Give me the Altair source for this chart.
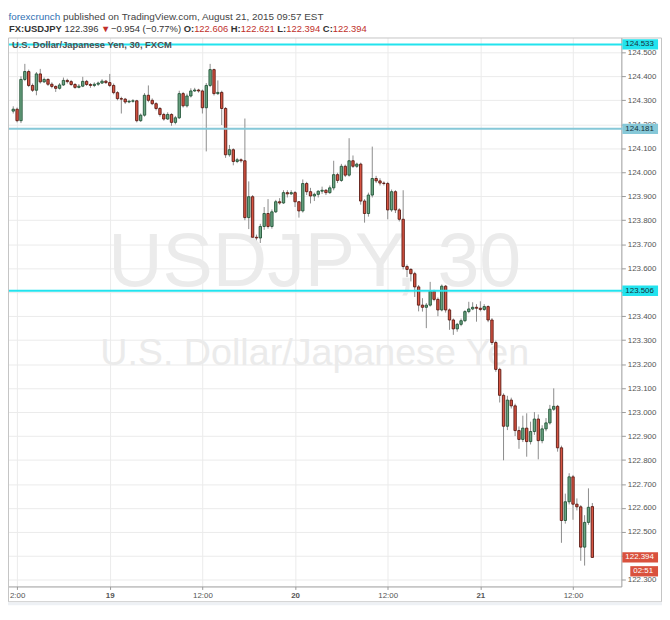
import altair as alt
import pandas as pd

# ---------------- data ----------------
opens = [124.255, 124.263, 124.215, 124.387, 124.420, 124.362, 124.342, 124.410, 124.377, 124.387,
         124.367, 124.358, 124.350, 124.364, 124.383, 124.378, 124.366, 124.354, 124.359, 124.379,
         124.366, 124.362, 124.367, 124.372, 124.380, 124.374, 124.362, 124.332, 124.307, 124.305,
         124.293, 124.296, 124.298, 124.215, 124.238, 124.321, 124.300, 124.286, 124.266, 124.241,
         124.222, 124.241, 124.208, 124.227, 124.328, 124.277, 124.318, 124.339, 124.343, 124.339,
         124.269, 124.362, 124.428, 124.328, 124.333, 124.266, 124.073, 124.094, 124.045, 124.052,
         124.048, 123.811, 123.898, 123.729, 123.726, 123.774, 123.828, 123.774, 123.835, 123.877,
         123.872, 123.915, 123.910, 123.915, 123.877, 123.839, 123.953, 123.919, 123.901, 123.908,
         123.921, 123.925, 123.915, 123.935, 123.990, 123.966, 124.025, 123.988, 124.048, 124.025,
         124.034, 123.880, 123.828, 123.905, 123.974, 123.964, 123.955, 123.953, 123.843, 123.919,
         123.843, 123.804, 123.607, 123.595, 123.577, 123.522, 123.446, 123.437, 123.446, 123.504,
         123.470, 123.426, 123.525, 123.426, 123.384, 123.347, 123.366, 123.381, 123.419, 123.430,
         123.437, 123.433, 123.428, 123.440, 123.384, 123.290, 123.178, 123.070, 122.941, 123.050,
         123.026, 122.923, 122.886, 122.933, 122.877, 122.919, 122.971, 122.881, 122.930, 122.955,
         123.012, 123.024, 122.851, 122.548, 122.626, 122.730, 122.616, 122.605, 122.437, 122.540,
         122.606]
highs = [124.275, 124.270, 124.400, 124.452, 124.428, 124.370, 124.418, 124.431, 124.395, 124.392,
         124.375, 124.362, 124.372, 124.395, 124.390, 124.385, 124.372, 124.368, 124.398, 124.385,
         124.372, 124.375, 124.378, 124.388, 124.385, 124.410, 124.370, 124.338, 124.315, 124.310,
         124.302, 124.305, 124.302, 124.245, 124.330, 124.362, 124.308, 124.292, 124.272, 124.248,
         124.250, 124.246, 124.235, 124.340, 124.335, 124.328, 124.350, 124.352, 124.348, 124.345,
         124.372, 124.452, 124.432, 124.383, 124.340, 124.272, 124.114, 124.100, 124.060, 124.058,
         124.224, 123.962, 123.905, 123.740, 123.785, 123.855, 123.888, 123.845, 123.885, 123.892,
         123.925, 123.925, 123.925, 123.922, 123.880, 123.970, 123.960, 123.935, 123.915, 123.925,
         123.940, 123.930, 123.945, 124.048, 123.998, 124.035, 124.032, 124.142, 124.070, 124.040,
         124.040, 123.888, 123.915, 124.107, 123.985, 123.975, 123.962, 123.960, 123.928, 123.925,
         123.850, 123.925, 123.615, 123.600, 123.585, 123.530, 123.475, 123.455, 123.543, 123.510,
         123.478, 123.532, 123.530, 123.432, 123.390, 123.372, 123.390, 123.425, 123.460, 123.458,
         123.450, 123.462, 123.450, 123.445, 123.392, 123.298, 123.185, 123.078, 123.068, 123.060,
         123.035, 122.940, 122.985, 122.995, 122.960, 123.000, 122.990, 122.945, 122.975, 123.030,
         123.099, 123.030, 122.860, 122.660, 122.745, 122.738, 122.640, 122.612, 122.570, 122.682,
         122.621]
lows = [124.245, 124.208, 124.205, 124.380, 124.355, 124.335, 124.321, 124.370, 124.372, 124.360,
        124.350, 124.335, 124.345, 124.360, 124.370, 124.360, 124.348, 124.350, 124.355, 124.360,
        124.352, 124.355, 124.360, 124.368, 124.368, 124.355, 124.325, 124.300, 124.245, 124.285,
        124.288, 124.290, 124.208, 124.210, 124.232, 124.292, 124.280, 124.258, 124.232, 124.215,
        124.218, 124.194, 124.200, 124.222, 124.270, 124.270, 124.312, 124.335, 124.332, 124.245,
        124.087, 124.355, 124.320, 124.322, 124.197, 124.060, 124.065, 124.029, 124.038, 124.040,
        123.800, 123.763, 123.720, 123.680, 123.705, 123.760, 123.765, 123.765, 123.830, 123.865,
        123.868, 123.895, 123.905, 123.855, 123.811, 123.832, 123.905, 123.870, 123.880, 123.895,
        123.910, 123.905, 123.910, 123.925, 123.955, 123.960, 123.980, 123.982, 124.018, 124.018,
        123.865, 123.790, 123.815, 123.895, 123.955, 123.945, 123.945, 123.804, 123.835, 123.830,
        123.795, 123.595, 123.563, 123.545, 123.480, 123.420, 123.419, 123.350, 123.440, 123.462,
        123.400, 123.420, 123.415, 123.343, 123.322, 123.335, 123.358, 123.375, 123.412, 123.425,
        123.377, 123.420, 123.422, 123.375, 123.280, 123.168, 123.040, 122.799, 122.925, 123.015,
        122.900, 122.847, 122.875, 122.814, 122.865, 122.905, 122.803, 122.870, 122.920, 122.948,
        123.005, 122.835, 122.455, 122.535, 122.615, 122.551, 122.590, 122.380, 122.360, 122.530,
        122.394]
closes = [124.263, 124.215, 124.387, 124.420, 124.362, 124.342, 124.410, 124.377, 124.387, 124.367,
          124.358, 124.350, 124.364, 124.383, 124.378, 124.366, 124.354, 124.359, 124.379, 124.366,
          124.362, 124.367, 124.372, 124.380, 124.374, 124.362, 124.332, 124.307, 124.305, 124.293,
          124.296, 124.298, 124.215, 124.238, 124.321, 124.300, 124.286, 124.266, 124.241, 124.222,
          124.241, 124.208, 124.227, 124.328, 124.277, 124.318, 124.339, 124.343, 124.339, 124.269,
          124.362, 124.428, 124.328, 124.333, 124.266, 124.073, 124.094, 124.045, 124.052, 124.048,
          123.811, 123.898, 123.729, 123.726, 123.774, 123.828, 123.774, 123.835, 123.877, 123.872,
          123.915, 123.910, 123.915, 123.877, 123.839, 123.953, 123.919, 123.901, 123.908, 123.921,
          123.925, 123.915, 123.935, 123.990, 123.966, 124.025, 123.988, 124.048, 124.025, 124.034,
          123.880, 123.828, 123.905, 123.974, 123.964, 123.955, 123.953, 123.843, 123.919, 123.843,
          123.804, 123.607, 123.595, 123.577, 123.522, 123.446, 123.437, 123.446, 123.504, 123.470,
          123.426, 123.525, 123.426, 123.384, 123.347, 123.366, 123.381, 123.419, 123.430, 123.437,
          123.433, 123.428, 123.440, 123.384, 123.290, 123.178, 123.070, 122.941, 123.050, 123.026,
          122.923, 122.886, 122.933, 122.877, 122.919, 122.971, 122.881, 122.930, 122.955, 123.012,
          123.024, 122.851, 122.548, 122.626, 122.730, 122.616, 122.605, 122.437, 122.540, 122.603,
          122.394]

x_tick_index = [1, 25, 49, 73, 97, 121, 145]
x_tick_labels = ["2:00", "19", "12:00", "20", "12:00", "21", "12:00"]
x_day_index = [25, 73, 121]
y_ticks = [round(122.3 + 0.1 * k, 1) for k in range(23)]

level_prices = [124.533, 124.181, 123.506]
level_labels = ["124.533", "124.181", "123.506"]
last_price = 122.394
last_label = "122.394"
countdown = "02:51"

header_line1 = [("forexcrunch", "#2f6fb3"),
                ("published on TradingView.com, August 21, 2015 09:57 EST", "#444444")]
header_line2 = [("FX:USDJPY", True, "#333333"), (" 122.396 ", False, "#333333"),
                ("\u25bc", False, "#c0302a"), (" \u22120.954 (\u22120.77%) ", False, "#333333"),
                ("O:", True, "#333333"), ("122.606 ", False, "#c0302a"),
                ("H:", True, "#333333"), ("122.621 ", False, "#c0302a"),
                ("L:", True, "#333333"), ("122.394 ", False, "#c0302a"),
                ("C:", True, "#333333"), ("122.394", False, "#c0302a")]
pane_title = "U.S. Dollar/Japanese Yen, 30, FXCM"
watermark1 = "USDJPY, 30"
watermark2 = "U.S. Dollar/Japanese Yen"

# ---------------- layout ----------------
W, H = 619, 554
X_DOM = [-0.076, 156.24]
Y_DOM = [122.273, 124.562]
FONT = "Liberation Sans"
UP_FILL, UP_LINE = "#6ba583", "#225437"
DN_FILL, DN_LINE = "#d75442", "#5b1a13"

REG = dict(zip("0123456789.,: ()%/", [0.556] * 10 + [0.278, 0.278, 0.278, 0.278, 0.333, 0.333, 0.889, 0.278]))
REG.update({"\u2212": 0.584, "\u25bc": 0.77})
BOLD = dict(REG)
BOLD.update({":": 0.333, "F": 0.611, "X": 0.667, "U": 0.722, "S": 0.667, "D": 0.722, "J": 0.556,
             "P": 0.667, "Y": 0.667, "O": 0.778, "H": 0.722, "L": 0.611, "C": 0.722})
LOWER = dict(zip("abcdefghijklmnopqrstuvwxyz",
                 [0.556, 0.556, 0.5, 0.556, 0.556, 0.278, 0.556, 0.556, 0.222, 0.222, 0.5, 0.222, 0.833,
                  0.556, 0.556, 0.556, 0.556, 0.333, 0.5, 0.278, 0.556, 0.5, 0.722, 0.5, 0.5, 0.5]))
REG.update(LOWER)


def text_width(s, size, bold=False):
    table = BOLD if bold else REG
    return sum(table.get(ch, 0.556) for ch in s) * size


HFS = 9.5
layers_header = []
xpos = 1.0
for s, b, c in header_line2:
    lead = len(s) - len(s.lstrip(" "))
    draw_x = xpos + lead * 0.278 * HFS
    layers_header.append(
        alt.Chart(pd.DataFrame({"t": [s.strip(" ")]})).mark_text(
            font=FONT, fontSize=HFS, fontWeight="bold" if b else "normal", color=c,
            align="left", baseline="alphabetic"
        ).encode(x=alt.value(draw_x), y=alt.value(-5.5), text="t:N"))
    xpos += text_width(s, HFS, b)

H1FS = 10
h1_x = 0.5
for s, c in header_line1:
    layers_header.append(
        alt.Chart(pd.DataFrame({"t": [s]})).mark_text(
            font=FONT, fontSize=H1FS, color=c, align="left", baseline="alphabetic"
        ).encode(x=alt.value(h1_x), y=alt.value(-18), text="t:N"))
    h1_x += text_width(s, H1FS) + 0.278 * H1FS

n = len(closes)
start = pd.Timestamp("2015-08-18 11:30")
df = pd.DataFrame({
    "i": list(range(n)),
    "time": [(start + pd.Timedelta(minutes=30 * k)).strftime("%Y-%m-%d %H:%M") for k in range(n)],
    "open": opens, "high": highs, "low": lows, "close": closes,
})

xscale = alt.Scale(domain=X_DOM, nice=False, zero=False)
yscale = alt.Scale(domain=Y_DOM, nice=False, zero=False)

label_expr = "{}[indexof({}, datum.value)]".format(
    "[" + ",".join("'%s'" % s for s in x_tick_labels) + "]",
    "[" + ",".join(str(v) for v in x_tick_index) + "]")
bold_test = " || ".join("datum.value == %d" % v for v in x_day_index)

x_axis = alt.Axis(values=x_tick_index, labelExpr=label_expr, title=None, grid=True,
                  gridColor="#ebebeb", domainColor="#9a9a9a", tickColor="#9a9a9a", tickSize=3,
                  labelFont=FONT, labelFontSize=8, labelColor="#555555", labelPadding=2,
                  labelFlush=False, labelOverlap=False,
                  labelFontWeight={"condition": {"test": bold_test, "value": "bold"}, "value": "normal"})
y_axis = alt.Axis(values=y_ticks, format=".3f", orient="right", title=None, grid=True,
                  gridColor="#ebebeb", domainColor="#9a9a9a", tickColor="#9a9a9a", tickSize=4,
                  labelFont=FONT, labelFontSize=8, labelColor="#555555", labelPadding=2,
                  labelFlush=False, labelOverlap=False)


def X(field):
    return alt.X(field, scale=xscale, axis=x_axis)


def Y(field):
    return alt.Y(field, scale=yscale, axis=y_axis)


wicks = alt.Chart(df).mark_rule(color="#8c8c8c", strokeWidth=1).encode(
    x=X("i:Q"), y=Y("low:Q"), y2="high:Q")

# watermark (drawn under the candles)
wm = alt.Chart(pd.DataFrame({"t": [watermark1]})).mark_text(
    font=FONT, fontSize=76, color="#ebebeb", align="center", baseline="middle"
).encode(x=alt.value(W / 2), y=alt.value(228), text="t:N")
wm2 = alt.Chart(pd.DataFrame({"t": [watermark2]})).mark_text(
    font=FONT, fontSize=38, color="#ebebeb", align="center", baseline="middle"
).encode(x=alt.value(W / 2), y=alt.value(320), text="t:N")

cond = "datum.close >= datum.open"
bodies = alt.Chart(df).mark_bar(size=2.4, strokeWidth=0.9).encode(
    x=X("i:Q"), y=Y("open:Q"), y2="close:Q",
    fill=alt.condition(cond, alt.value(UP_FILL), alt.value(DN_FILL)),
    stroke=alt.condition(cond, alt.value(UP_LINE), alt.value(DN_LINE)),
)

lev_df = pd.DataFrame({"p": level_prices, "lab": level_labels,
                       "c": ["#22e3ee", "#86c8d8", "#22e3ee"]})
lev_lines = alt.Chart(lev_df).mark_rule(strokeWidth=2).encode(
    y=Y("p:Q"), x=alt.value(0), x2=alt.value(W + 1), color=alt.Color("c:N", scale=None))
half = 5.2 / 242.0
lev_boxes = alt.Chart(lev_df).transform_calculate(
    lo="datum.p - %f" % half, hi="datum.p + %f" % half
).mark_rect().encode(
    y=Y("lo:Q"), y2="hi:Q", x=alt.value(W + 1), x2=alt.value(W + 37),
    color=alt.Color("c:N", scale=None))
lev_text = alt.Chart(lev_df).mark_text(
    font=FONT, fontSize=8, align="left", baseline="middle", color="#17323a"
).encode(y=Y("p:Q"), x=alt.value(W + 4), text="lab:N")

last_df = pd.DataFrame({"p": [last_price], "lab": [last_label], "cd": [countdown]})
off = 14.0 / 242.0
last_box = alt.Chart(last_df).transform_calculate(
    lo="datum.p - %f" % half, hi="datum.p + %f" % half
).mark_rect(color="#d9513d").encode(
    y=Y("lo:Q"), y2="hi:Q", x=alt.value(W + 1), x2=alt.value(W + 37))
cd_box = alt.Chart(last_df).transform_calculate(
    lo="datum.p - %f - %f" % (off, half), hi="datum.p - %f + %f" % (off, half)
).mark_rect(color="#d9513d").encode(
    y=Y("lo:Q"), y2="hi:Q", x=alt.value(W + 9), x2=alt.value(W + 37))
last_text = alt.Chart(last_df).mark_text(
    font=FONT, fontSize=8, align="left", baseline="middle", color="white"
).encode(y=Y("p:Q"), x=alt.value(W + 4), text="lab:N")
cd_text = alt.Chart(last_df).mark_text(
    font=FONT, fontSize=8, align="left", baseline="middle", color="white", dy=14
).encode(y=Y("p:Q"), x=alt.value(W + 12), text="cd:N")

title_t = alt.Chart(pd.DataFrame({"t": [pane_title]})).mark_text(
    font=FONT, fontSize=9.5, fontWeight="bold", color="#505050", align="left", baseline="middle"
).encode(x=alt.value(4), y=alt.value(8), text="t:N")

frame = alt.Chart(pd.DataFrame({"a": [0]})).mark_rect(
    filled=False, stroke="#c4c4c4", strokeWidth=1
).encode(x=alt.value(0.5), x2=alt.value(659.5), y=alt.value(0.5), y2=alt.value(569.5))
strip = alt.Chart(pd.DataFrame({"a": [0]})).mark_rect(color="#eef1f5").encode(
    x=alt.value(0), x2=alt.value(660), y=alt.value(570), y2=alt.value(573))

chart = alt.layer(
    wicks, wm, wm2, bodies, lev_lines, lev_boxes, lev_text, last_box, cd_box, last_text, cd_text,
    title_t, frame, strip, *layers_header
).properties(
    width=W, height=H, background="white",
    padding={"left": 0, "top": 27, "right": 41, "bottom": 19},
    autosize=alt.AutoSizeParams(type="none"),
).configure_view(stroke=None)

chart.save("out.html", embed_options={"renderer": "svg", "actions": False})
